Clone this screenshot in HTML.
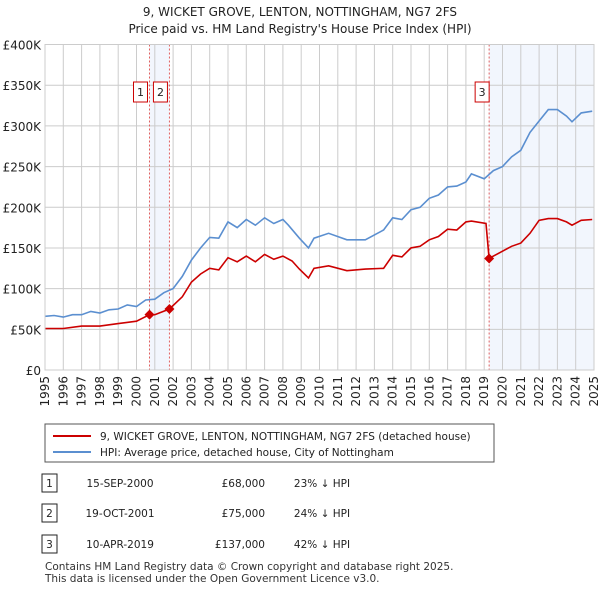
<!DOCTYPE html>
<html><head><meta charset="utf-8"><style>
body{margin:0;background:#fff;font-family:"DejaVu Sans",sans-serif;}
svg text{font-family:"DejaVu Sans","Liberation Sans",sans-serif;}
</style></head><body>
<svg id="c" width="600" height="590">
<text x="300" y="16" text-anchor="middle" font-size="12" fill="#222">9, WICKET GROVE, LENTON, NOTTINGHAM, NG7 2FS</text>
<text x="300" y="33" text-anchor="middle" font-size="12" fill="#222">Price paid vs. HM Land Registry's House Price Index (HPI)</text>
<g id="plot"></g>
<rect x="45" y="424" width="449" height="38" fill="#fff" stroke="#555"/>
<line x1="53" y1="436" x2="91" y2="436" stroke="#cc0000" stroke-width="2"/>
<text x="100" y="440" font-size="10.5" fill="#222">9, WICKET GROVE, LENTON, NOTTINGHAM, NG7 2FS (detached house)</text>
<line x1="53" y1="452" x2="91" y2="452" stroke="#5b8fd0" stroke-width="2"/>
<text x="100" y="456" font-size="10.5" fill="#222">HPI: Average price, detached house, City of Nottingham</text>
<g id="tbl" font-size="10.5" fill="#222"></g>
<text x="45" y="570" font-size="10.5" fill="#333">Contains HM Land Registry data © Crown copyright and database right 2025.</text>
<text x="45" y="582" font-size="10.5" fill="#333">This data is licensed under the Open Government Licence v3.0.</text>
</svg>
<script>
const hpiYears=[1995,1995.5,1996,1996.5,1997,1997.5,1998,1998.5,1999,1999.5,2000,2000.5,2001,2001.5,2002,2002.5,2003,2003.5,2004,2004.5,2005,2005.5,2006,2006.5,2007,2007.5,2008,2008.3,2008.9,2009.4,2009.7,2010.5,2011.5,2012.5,2013.5,2014,2014.5,2015,2015.5,2016,2016.5,2017,2017.5,2018,2018.3,2019,2019.5,2020,2020.5,2021,2021.5,2022,2022.5,2023,2023.5,2023.8,2024.3,2024.9];
const hpiValues=[66,67,65,68,68,72,70,74,75,80,78,86,87,95,100,115,135,150,163,162,182,175,185,178,187,180,185,178,162,150,162,168,160,160,172,187,185,197,200,211,215,225,226,231,241,235,245,250,262,270,292,306,320,320,312,305,316,318];
const priceYears=[1995,1996,1997,1998,1999,2000,2000.71,2001,2001.8,2002.5,2003,2003.5,2004,2004.5,2005,2005.5,2006,2006.5,2007,2007.5,2008,2008.5,2008.9,2009.4,2009.7,2010.5,2011.5,2012.5,2013.5,2014,2014.5,2015,2015.5,2016,2016.5,2017,2017.5,2018,2018.3,2019.1,2019.27,2019.5,2020,2020.5,2021,2021.5,2022,2022.5,2023,2023.5,2023.8,2024.3,2024.9];
const priceValues=[51,51,54,54,57,60,68,68,75,90,108,118,125,123,138,133,140,133,142,136,140,134,124,113,125,128,122,124,125,141,139,150,152,160,164,173,172,182,183,180,137,140,146,152,156,168,184,186,186,182,178,184,185];
const saleYears=[2000.71,2001.8,2019.27];
const saleValues=[68,75,137];
const saleLabels=["1","2","3"];
const saleDates=["15-SEP-2000","19-OCT-2001","10-APR-2019"];
const salePrices=["£68,000","£75,000","£137,000"];
const saleDiffs=["23% ↓ HPI","24% ↓ HPI","42% ↓ HPI"];
const yTicks=[0,50,100,150,200,250,300,350,400];
const yTickLabels=["£0","£50K","£100K","£150K","£200K","£250K","£300K","£350K","£400K"];
const xTicks=[1995,1996,1997,1998,1999,2000,2001,2002,2003,2004,2005,2006,2007,2008,2009,2010,2011,2012,2013,2014,2015,2016,2017,2018,2019,2020,2021,2022,2023,2024,2025];

const L=45,R=594,T=44.5,B=370;
const X=y=>L+(y-1995)*(R-L)/30;
const Y=v=>B-v*(B-T)/400;
const NS="http://www.w3.org/2000/svg";
const g=document.getElementById('plot');
function mk(tag,attrs,parent){const e=document.createElementNS(NS,tag);for(const k in attrs)e.setAttribute(k,attrs[k]);(parent||g).appendChild(e);return e;}
let s=mk('rect',{x:X(saleYears[0]),y:T,width:X(saleYears[1])-X(saleYears[0]),height:B-T,fill:'#f2f6fd'});


s=mk('rect',{x:X(saleYears[2]),y:T,width:R-X(saleYears[2]),height:B-T,fill:'#f2f6fd'});


yTicks.forEach((v,i)=>{
 const l=mk('line',{x1:L,x2:R,y1:Y(v),y2:Y(v),stroke:'#ccc'});
 
 
 const t=mk('text',{x:L-4,y:Y(v)+5,'text-anchor':'end','font-size':'12',fill:'#222'});
 t.textContent=yTickLabels[i];
 
 
});
xTicks.forEach(yr=>{
 const l=mk('line',{x1:X(yr),x2:X(yr),y1:T,y2:B,stroke:'#ccc'});
 
 
 const t=mk('text',{x:0,y:0,'text-anchor':'end','font-size':'12',fill:'#222',transform:`translate(${X(yr)+4},${B+6}) rotate(-90)`});
 t.textContent=yr;
 
 
});
saleYears.forEach((yr,i)=>{
 const l=mk('line',{x1:X(yr),x2:X(yr),y1:T,y2:B,stroke:'#e06060','stroke-dasharray':'2,2'});
 
 
});
const pts=(xs,vs)=>xs.map((x,i)=>X(x).toFixed(1)+','+Y(vs[i]).toFixed(1)).join(' ');
let p=mk('polyline',{points:pts(hpiYears,hpiValues),fill:'none',stroke:'#5b8fd0','stroke-width':1.6});


p=mk('polyline',{points:pts(priceYears,priceValues),fill:'none',stroke:'#cc0000','stroke-width':1.6});


saleYears.forEach((yr,i)=>{
 const cx=X(yr),cy=Y(saleValues[i]);
 const d=mk('polygon',{points:`${cx},${cy-5} ${cx+5},${cy} ${cx},${cy+5} ${cx-5},${cy}`,fill:'#cc0000'});
 
 
 const bx=saleLabels[i]==='3'?cx-7:cx-9;
 const r=mk('rect',{x:bx-7,y:82,width:14,height:20,fill:'#fff',stroke:'#cc0000'});
 
 
 const t=mk('text',{x:bx,y:96,'text-anchor':'middle','font-size':'11',fill:'#222'});
 t.textContent=saleLabels[i];
 
 
});
const b=mk('rect',{x:L,y:T,width:R-L,height:B-T,fill:'none',stroke:'#ccc'});


const tb=document.getElementById('tbl');
const rowsY=[483,513,544];
saleLabels.forEach((lab,i)=>{
 const y=rowsY[i];
 const r=mk('rect',{x:42,y:y-9,width:15,height:18,fill:'#fff',stroke:'#222'},tb);
 
 
 const cells=[[49.5,lab,'middle'],[120,saleDates[i],'middle'],[265,salePrices[i],'end'],[322,saleDiffs[i],'middle']];
 cells.forEach(c=>{
  const t=mk('text',{x:c[0],y:y+4,'text-anchor':c[2]},tb);
  t.textContent=c[1];
  
  
 });
});
</script>
</body></html>
